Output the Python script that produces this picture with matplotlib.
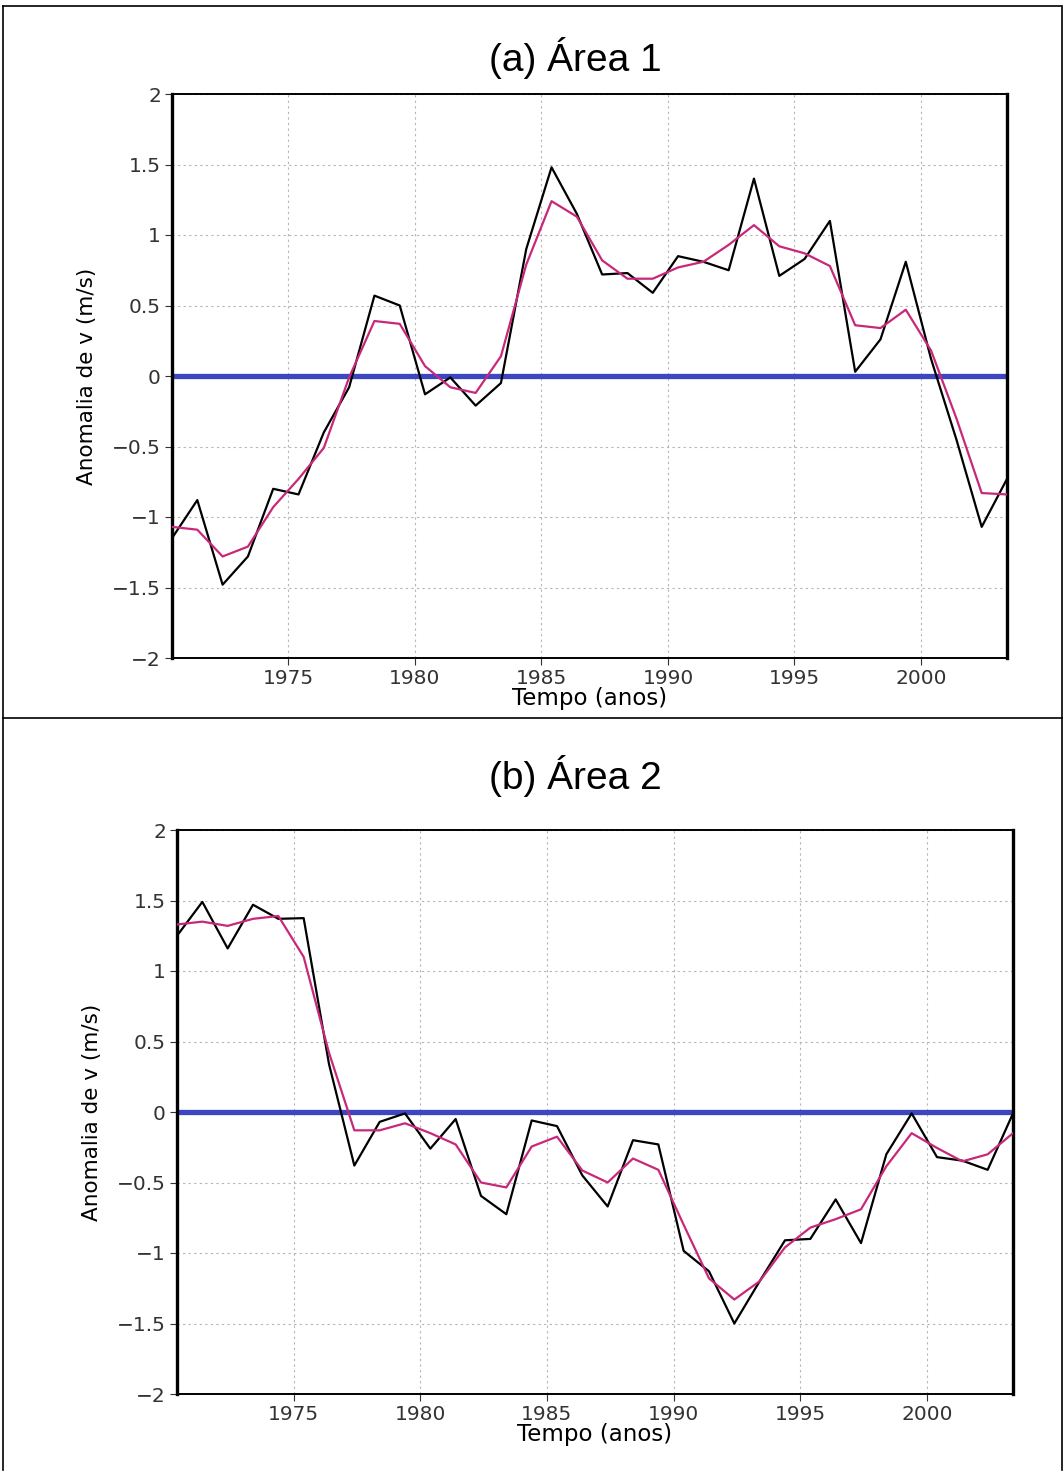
import numpy as np
import matplotlib
matplotlib.use('Agg')
import matplotlib.pyplot as plt
from matplotlib.lines import Line2D

# anos (pontos anuais, deslocados ~0.4 ano como no grafico original)
anos = [1970.4 + i for i in range(34)]

# Area 1: anomalia de v (preto) e media movel (magenta)
area1_v = [-1.15, -0.88, -1.48, -1.28, -0.80, -0.84, -0.40, -0.08, 0.57, 0.50,
           -0.13, -0.01, -0.21, -0.05, 0.90, 1.48, 1.15, 0.72, 0.73, 0.59,
           0.85, 0.81, 0.75, 1.40, 0.71, 0.83, 1.10, 0.03, 0.26, 0.81,
           0.12, -0.45, -1.07, -0.73]
area1_mm = [-1.07, -1.09, -1.28, -1.21, -0.93, -0.73, -0.51, -0.01, 0.39, 0.37,
            0.07, -0.08, -0.12, 0.14, 0.79, 1.24, 1.13, 0.82, 0.69, 0.69,
            0.77, 0.81, 0.93, 1.07, 0.92, 0.87, 0.78, 0.36, 0.34, 0.47,
            0.18, -0.30, -0.83, -0.84]

# Area 2
area2_v = [1.25, 1.49, 1.16, 1.47, 1.37, 1.375, 0.34, -0.38, -0.07, -0.01,
           -0.26, -0.05, -0.595, -0.725, -0.06, -0.10, -0.45, -0.67, -0.20, -0.23,
           -0.985, -1.13, -1.50, -1.20, -0.91, -0.90, -0.62, -0.93, -0.30, -0.01,
           -0.32, -0.345, -0.41, -0.01]
area2_mm = [1.33, 1.35, 1.32, 1.37, 1.39, 1.10, 0.42, -0.13, -0.13, -0.08,
            -0.15, -0.23, -0.50, -0.535, -0.245, -0.175, -0.415, -0.50, -0.33, -0.41,
            -0.80, -1.18, -1.33, -1.20, -0.96, -0.82, -0.76, -0.69, -0.385, -0.15,
            -0.255, -0.35, -0.30, -0.15]

titulos = ['(a) Área 1', '(b) Área 2']
xticks = [1975, 1980, 1985, 1990, 1995, 2000]
yticks = [-2, -1.5, -1, -0.5, 0, 0.5, 1, 1.5, 2]
ylabels = ['\u22122', '\u22121.5', '\u22121', '\u22120.5', '0', '0.5', '1', '1.5', '2']

W, H = 1064, 1472
fig = plt.figure(figsize=(W / 100, H / 100), dpi=100)

def painel(pos, v, mm, titulo, ty):
    ax = fig.add_axes(pos)
    ax.set_xlim(anos[0], anos[-1])
    ax.set_ylim(-2, 2)
    ax.set_xticks(xticks)
    ax.set_yticks(yticks)
    ax.set_yticklabels(ylabels)
    ax.grid(True, color='#b4b4b4', linestyle=(0, (2, 3)), linewidth=0.8)
    ax.axhline(0, color='#3c46c0', linewidth=3.8, zorder=2)
    ax.plot(anos, v, color='black', linewidth=1.6, zorder=3)
    ax.plot(anos, mm, color='#c8287a', linewidth=1.6, zorder=4)
    ax.tick_params(labelsize=14.5, length=5, width=0.8, colors='#333333', pad=3)
    for s in ['left', 'right']:
        ax.spines[s].set_linewidth(2.4)
    for s in ['top', 'bottom']:
        ax.spines[s].set_linewidth(1.4)
    ax.set_ylabel('Anomalia de v (m/s)', fontsize=15.5, labelpad=11)
    ax.set_xlabel('Tempo (anos)', fontsize=16.5, labelpad=-1)
    fig.text(575 / W, ty, titulo, fontsize=28, ha='center', va='center',
             family='Liberation Sans')
    return ax

painel([172 / W, 1 - 658 / H, 835 / W, 564 / H], area1_v, area1_mm, titulos[0], 1 - 58 / H)
painel([177 / W, 1 - 1394 / H, 836 / W, 564 / H], area2_v, area2_mm, titulos[1], 1 - 776 / H)

# moldura e divisoria
for xs, ys in [([3 / W, 1 - 3 / W], [1 - 6 / H, 1 - 6 / H]),
               ([3 / W, 3 / W], [1 - 6 / H, 2 / H]),
               ([1 - 2 / W, 1 - 2 / W], [1 - 6 / H, 2 / H]),
               ([3 / W, 1 - 2 / W], [1 - 718 / H, 1 - 718 / H])]:
    fig.add_artist(Line2D(xs, ys, color='black', linewidth=1.2, transform=fig.transFigure))

fig.savefig('out.png', dpi=100)
